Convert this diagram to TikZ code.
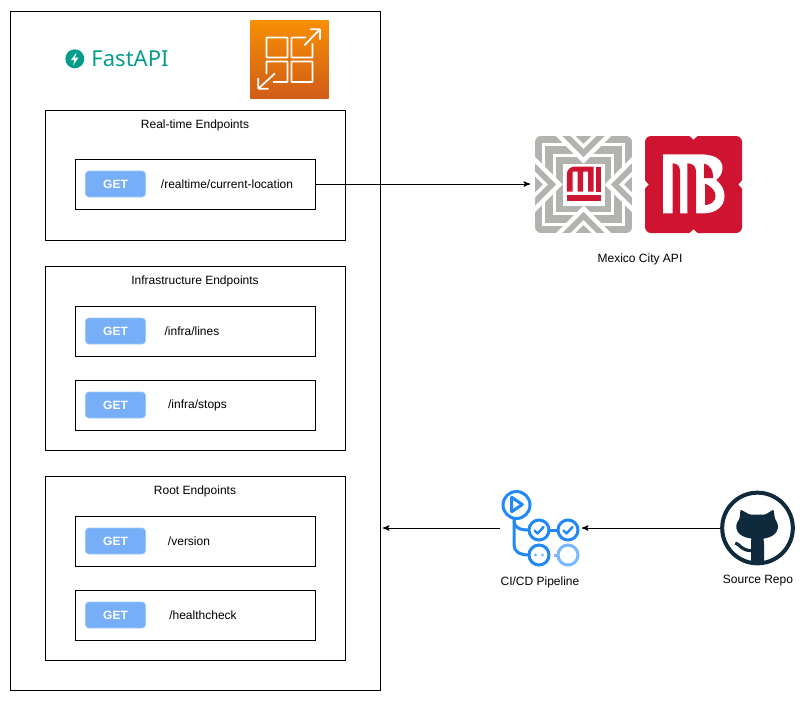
\documentclass[tikz,border=0pt]{standalone}
\usepackage{fontspec}
\usepackage{xcolor}
\setmainfont{Liberation Sans}
\newfontfamily\logofont{Noto Sans}
\usetikzlibrary{arrows}

\definecolor{getblue}{HTML}{76AEF8}
\definecolor{fastteal}{HTML}{059C8C}
\definecolor{awstop}{HTML}{F78E04}
\definecolor{awsbottom}{HTML}{D05C17}
\definecolor{metrogray}{HTML}{B2B2AE}
\definecolor{metrored}{HTML}{CE1431}
\definecolor{pipeblue}{HTML}{2188F5}
\definecolor{pipelight}{HTML}{79B8FF}
\definecolor{repoink}{HTML}{0F2A3C}

\tikzset{
  groupbox/.style={rectangle, draw, line width=0.75pt, minimum width=225pt},
  routebox/.style={rectangle, draw, line width=0.75pt, minimum width=180pt, minimum height=37.5pt},
  getbadge/.style={rectangle, rounded corners=2.5pt, fill=getblue, draw=getblue!70!white, line width=0.4pt, minimum width=45pt, minimum height=19.5pt, text=white, font=\fontsize{9}{11}\selectfont\bfseries},
  iconbox/.style={rectangle, inner sep=0pt, outer sep=0pt},
  link/.style={-stealth', line width=0.75pt},
  pipeline/.style={line width=2.25pt, draw=pipeblue},
  pipefaint/.style={line width=2.25pt, draw=pipelight},
  awsline/.style={line width=1.3pt, draw=white, rounded corners=0.5pt}
}

\begin{document}
\begin{tikzpicture}[x=0.75pt, y=-0.75pt, font=\fontsize{9}{11}\selectfont]
\useasboundingbox (0,0) rectangle (806,701);

\draw (195.5,350.5) node[rectangle, draw, line width=0.75pt, minimum width=277.5pt, minimum height=509.25pt] (apibox) {};

% logos on top of the api
\fill[fastteal] (74.8,58.8) circle (9.5);
\fill[white] (76.5,52.5) -- (71,60) -- (74.5,60) -- (73,65.5) -- (78.5,57.5) -- (75,57.5) -- cycle;
\draw (130,59) node[text=fastteal, font=\logofont\fontsize{16.5}{18}\selectfont] (fastapi) {FastAPI};

\shade[top color=awstop, bottom color=awsbottom] (250.3,20.8) rectangle (328.5,98.5);
\draw[awsline] (306,37.5) -- (291.5,37.5) -- (291.5,57.5) -- (312.5,57.5) -- (312.5,43);
\draw[awsline] (266.5,37.5) rectangle (287.5,57.5);
\draw[awsline] (291.5,61.5) rectangle (312.5,82);
\draw[awsline] (266.5,74) -- (266.5,61.5) -- (287.5,61.5) -- (287.5,82) -- (273,82);
\draw[awsline] (304.3,45.3) -- (320,29.3);
\draw[awsline] (310,29.3) -- (320,29.3) -- (320,39.5);
\draw[awsline] (275,73.3) -- (258.3,88.7);
\draw[awsline] (258.3,78) -- (258.3,88.7) -- (268.7,88.7);

% real-time group
\draw (195.5,175.5) node[groupbox, minimum height=97.5pt] (realtimebox) {};
\draw (195,125) node (realtimetitle) {Real-time Endpoints};
\draw (195.5,184) node[routebox] (currentroute) {};
\draw (115.5,184) node[getbadge] (currentget) {GET};
\draw (227,184) node (currenttext) {/realtime/current-location};

% infrastructure group
\draw (195.5,358.5) node[groupbox, minimum height=138pt] (infrabox) {};
\draw (195,281) node (infratitle) {Infrastructure Endpoints};
\draw (195.5,331) node[routebox] (linesroute) {};
\draw (115.5,331) node[getbadge] (linesget) {GET};
\draw (192,331) node (linestext) {/infra/lines};
\draw (195.5,405) node[routebox] (stopsroute) {};
\draw (115.5,405) node[getbadge] (stopsget) {GET};
\draw (197.5,405.5) node (stopstext) {/infra/stops};

% root group
\draw (195.5,568) node[groupbox, minimum height=138pt] (rootbox) {};
\draw (195,491) node (roottitle) {Root Endpoints};
\draw (195.5,541) node[routebox] (versionroute) {};
\draw (115.5,541) node[getbadge] (versionget) {GET};
\draw (189,541) node (versiontext) {/version};
\draw (195.5,615) node[routebox] (healthroute) {};
\draw (115.5,615) node[getbadge] (healthget) {GET};
\draw (203,615) node (healthtext) {/healthcheck};

% metro logo
\draw (583.5,184) node[iconbox, minimum width=80.25pt, minimum height=72pt] (metro) {};
\begin{scope}[shift={(583.5,184.5)}]
\clip[rounded corners=4.5pt] (-48.5,-48.5) rectangle (48.5,48.5);
\fill[metrogray] (-48.5,-48.5) rectangle (48.5,48.5);
\foreach \turn in {0,90,180,270} {
  \begin{scope}[rotate=\turn]
  \draw[white, line width=2pt] (-17,-40) -- (-40,-40) -- (-40,-17);
  \draw[white, line width=2pt] (-6,-29) -- (-29,-29) -- (-29,-6);
  \draw[white, line width=3.2pt] (-30,-54) -- (0,-24) -- (30,-54);
  \draw[white, line width=2.6pt] (-14,-52) -- (0,-38) -- (14,-52);
  \end{scope}
}
\fill[white] (-21,-21) rectangle (21,21);
\fill[metrored] (-16.7,7) -- (-16.7,-10) .. controls (-16.7,-15) and (-13,-18) .. (-8,-18) -- (10,-18) -- (10,7) -- (4.5,7) -- (4.5,-13) -- (-0.5,-13) -- (-0.5,7) -- (-6,7) -- (-6,-13) -- (-11,-13) -- (-11,7) -- cycle;
\fill[metrored] (12.3,-18) rectangle (17.7,7);
\fill[metrored] (-16.7,10.7) rectangle (17.7,16.7);
\end{scope}

% metrobus logo
\fill[metrored, rounded corners=4.5pt] (645,136) rectangle (742,233);
\fill[white] (688.5,135) -- (693.5,139.5) -- (698.5,135) -- cycle;
\fill[white] (688.5,234) -- (693.5,229.5) -- (698.5,234) -- cycle;
\fill[white] (644,179.5) -- (648.5,184.5) -- (644,189.5) -- cycle;
\fill[white] (743,179.5) -- (738.5,184.5) -- (743,189.5) -- cycle;
\fill[white] (663,154.3) -- (700,154.3) .. controls (714,154.3) and (722.5,159) .. (722.5,168) .. controls (722.5,173) and (720,177) .. (716,180) .. controls (721,184) and (724.5,189) .. (724.5,196) .. controls (724.5,207) and (715,213.3) .. (704,213.3) -- (663,213.3) -- cycle;
\fill[metrored] (672.7,214) -- (672.7,163.3) .. controls (677,163.3) and (680,166) .. (680,171) -- (680,214) -- cycle;
\fill[metrored] (687.3,214) -- (687.3,163.3) .. controls (692,163.3) and (696,166) .. (696,171) -- (696,214) -- cycle;
\fill[metrored] (704,163.5) .. controls (710,165) and (713,170) .. (713,176) -- (713,178) -- (704,178) -- cycle;
\fill[metrored] (705,183.5) .. controls (712,187) and (715.5,191) .. (715.5,196) .. controls (715.5,201) and (711,205) .. (705,205) -- cycle;
\draw (640,259) node (metrotext) {Mexico City API};

% pipeline icon
\draw (541,528) node[iconbox, minimum width=61.5pt, minimum height=57pt] (pipeicon) {};
\draw[pipeline] (516.5,505) circle (13.5);
\draw[pipeline, line join=round] (511.7,497.3) -- (511.7,511.7) -- (522.3,504.5) -- cycle;
\draw[pipeline] (514,519) -- (514,545) .. controls (514,551) and (519,555) .. (529,555);
\draw[pipeline] (514,521) .. controls (514,527) and (519,530) .. (529,530);
\draw[pipeline] (539,530) circle (10);
\draw[pipeline] (568,530) circle (10);
\draw[pipeline] (549,530) -- (558,530);
\draw[pipeline, line width=1.8pt, line cap=round, line join=round] (534.5,530.5) -- (537.5,533.5) -- (543.5,527);
\draw[pipeline, line width=1.8pt, line cap=round, line join=round] (563.5,530.5) -- (566.5,533.5) -- (572.5,527);
\draw[pipeline] (539,555) circle (10);
\fill[pipelight] (535.5,555) circle (1.6);
\fill[pipelight] (542.5,555) circle (1.6);
\draw[pipefaint] (568,555) circle (10);
\draw[pipefaint] (554,555) -- (558,555);
\draw (540,582.5) node (pipetext) {CI/CD Pipeline};

% repo icon
\draw (757.5,528) node[circle, draw=repoink, line width=3pt, minimum size=53pt, inner sep=0pt] (repo) {};
\fill[repoink, rounded corners=0.8pt] (740.5,509.5) -- (749.5,514.5) -- (765.5,514.5) -- (773.5,509.5) -- (775,519) .. controls (781,527) and (777,537) .. (763,538.5) .. controls (764,541) and (764,543) .. (764,545) -- (764,563.5) -- (751,563.5) -- (751,545) .. controls (751,542) and (751,540) .. (752,538.5) .. controls (737,537) and (733,527) .. (739.5,519) -- cycle;
\draw[repoink, line width=2.4pt] (735.3,543) .. controls (740,544) and (741,551) .. (752,550.5);
\draw (758,581) node (repotext) {Source Repo};

\coordinate (apiedge) at (383,528);

\draw[link] (currentroute.east) -- (metro.west);
\draw[link] (repo.west) -- (pipeicon.east);
\draw[link] (pipeicon.west) -- (apiedge);

\end{tikzpicture}
\end{document}
